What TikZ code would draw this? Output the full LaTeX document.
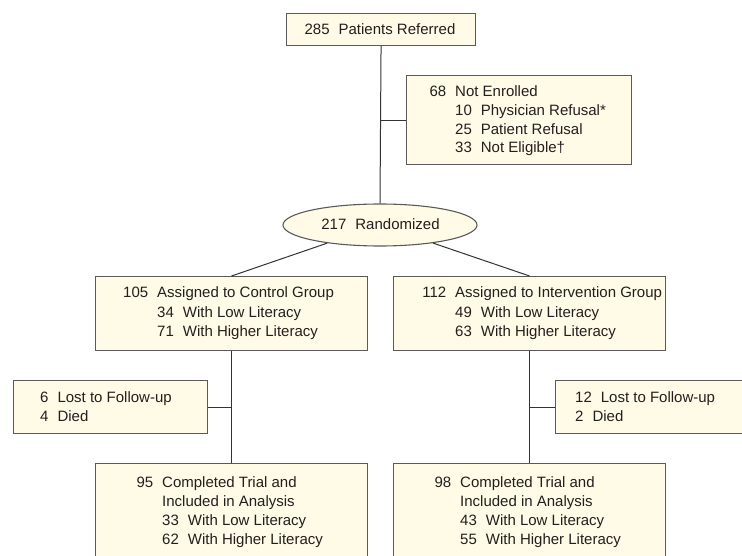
\documentclass[tikz,border=0pt]{standalone}
\usepackage{fontspec}
\setmainfont{Liberation Sans}
\usetikzlibrary{shapes.geometric}
\definecolor{boxfill}{HTML}{FFFBE6}
\definecolor{boxdraw}{HTML}{5A5A5A}
\definecolor{linecol}{HTML}{333333}
\definecolor{txtcol}{HTML}{231F20}
\newcommand{\hangnum}[1]{\llap{#1\hspace{9pt}}}
\begin{document}
\begin{tikzpicture}[x=1pt,y=-1pt,
  box/.style={draw=boxdraw, fill=boxfill, line width=1.1pt, rectangle, inner sep=0, anchor=north west},
  conn/.style={draw=linecol, line width=1pt},
  ln/.style={anchor=base west, inner sep=0, text=txtcol, font=\fontsize{15}{18}\selectfont},
]
\useasboundingbox (0,0) rectangle (742,556);
% boxes
\node[box, minimum width=189pt, minimum height=32pt] (top) at (286,13) {};
\node[box, minimum width=225pt, minimum height=89pt] (ne) at (406,75) {};
\node[draw=boxdraw, fill=boxfill, line width=1.1pt, ellipse, inner sep=0, minimum width=194pt, minimum height=42pt] (ell) at (380,225) {};
\node[box, minimum width=272pt, minimum height=74pt] (lbox) at (95,276) {};
\node[box, minimum width=272pt, minimum height=74pt] (rbox) at (393,276) {};
\node[box, minimum width=194pt, minimum height=53pt] (llost) at (13,380) {};
\node[box, minimum width=192pt, minimum height=53pt] (rlost) at (555,380) {};
\node[box, minimum width=272pt, minimum height=100pt] (lbot) at (95,463) {};
\node[box, minimum width=272pt, minimum height=100pt] (rbot) at (393,463) {};
% connectors
\draw[conn] (top.south) -- (ell.north);
\draw[conn] (ne.west) -- (ne.west -| ell.north);
\draw[conn] (ell) -- (lbox.north);
\draw[conn] (ell) -- (rbox.north);
\draw[conn] (lbox.south) -- (lbot.north);
\draw[conn] (rbox.south) -- (rbot.north);
\draw[conn] (llost.east) -- (llost.east -| lbox.south);
\draw[conn] (rlost.west) -- (rlost.west -| rbox.south);
% texts
\node[ln, anchor=base] (t0) at (380,34.5) {285\hspace{9pt}Patients Referred};
\node[ln] (ne1) at (455,96.5) {\hangnum{68}Not Enrolled};
\node[ln] (ne2) at (455,115.3) {10\hspace{9pt}Physician Refusal*};
\node[ln] (ne3) at (455,134.1) {25\hspace{9pt}Patient Refusal};
\node[ln] (ne4) at (455,152.9) {33\hspace{9pt}Not Eligible†};
\node[ln, anchor=base] (e1) at (380.5,230) {217\hspace{9pt}Randomized};
\node[ln] (l1) at (157,297.5) {\hangnum{105}Assigned to Control Group};
\node[ln] (l2) at (157,317) {34\hspace{9pt}With Low Literacy};
\node[ln] (l3) at (157,336.5) {71\hspace{9pt}With Higher Literacy};
\node[ln] (r1) at (455,297.5) {\hangnum{112}Assigned to Intervention Group};
\node[ln] (r2) at (455,317) {49\hspace{9pt}With Low Literacy};
\node[ln] (r3) at (455,336.5) {63\hspace{9pt}With Higher Literacy};
\node[ln] (ll1) at (40,402) {6\hspace{9pt}Lost to Follow-up};
\node[ln] (ll2) at (40,421.5) {4\hspace{9pt}Died};
\node[ln] (rl1) at (575,402) {12\hspace{9pt}Lost to Follow-up};
\node[ln] (rl2) at (575,421.5) {2\hspace{9pt}Died};
\node[ln] (lb1) at (162,487) {\hangnum{95}Completed Trial and};
\node[ln] (lb2) at (162,506.3) {Included in Analysis};
\node[ln] (lb3) at (162,525.6) {33\hspace{9pt}With Low Literacy};
\node[ln] (lb4) at (162,544.9) {62\hspace{9pt}With Higher Literacy};
\node[ln] (rb1) at (460,487) {\hangnum{98}Completed Trial and};
\node[ln] (rb2) at (460,506.3) {Included in Analysis};
\node[ln] (rb3) at (460,525.6) {43\hspace{9pt}With Low Literacy};
\node[ln] (rb4) at (460,544.9) {55\hspace{9pt}With Higher Literacy};
\end{tikzpicture}
\end{document}
